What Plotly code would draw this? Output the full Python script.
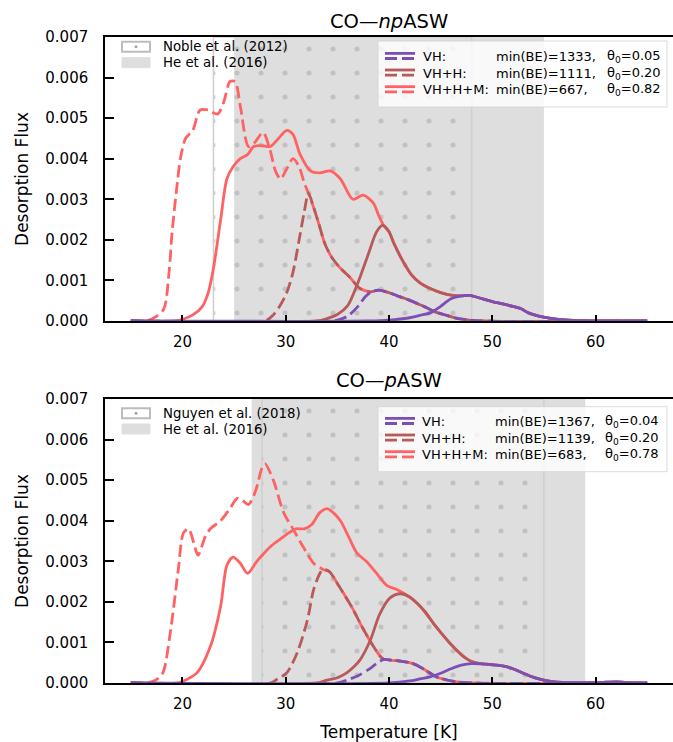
import plotly.graph_objects as go

# ---------------- data: CO - npASW (top panel) ----------------
np_vh_sol_T = [15, 38, 40, 42, 43, 44, 45, 46, 47, 47.8, 49, 50, 51, 52, 52.8, 53.5, 54.5, 55.5, 57, 59, 65]
np_vh_sol_F = [0, 0, 0.00002, 0.00008, 0.00014, 0.0002, 0.00036, 0.00055, 0.00062, 0.00063, 0.00055, 0.00048, 0.00042,
               0.00036, 0.0003, 0.0002, 0.00012, 0.00007, 0.00003, 0.00001, 0]

np_vh_dash_T = [15, 34.5, 35, 36, 37, 37.7, 38.3, 39, 40, 40.8, 41.5, 42.2, 43, 43.7, 44.5, 45.6, 46.5, 47.5, 49, 65]
np_vh_dash_F = [0, 0, 0.00002, 0.00012, 0.00036, 0.0006, 0.00072, 0.00076, 0.0007, 0.00062, 0.00056, 0.00049, 0.0004,
                0.00032, 0.00022, 0.00014, 0.00007, 0.00003, 0, 0]

np_vhh_sol_T = [15, 33, 34, 35, 36, 37, 38, 38.8, 39.4, 40, 40.5, 41.4, 42.2, 43, 44, 45, 46, 47, 47.8, 49, 50, 51, 52,
                52.8, 53.5, 54.5, 55.5, 57, 59, 65]
np_vhh_sol_F = [0, 0, 0.00006, 0.00016, 0.00038, 0.00095, 0.00165, 0.0022, 0.00236, 0.0022, 0.0019, 0.00145, 0.00113,
                0.00094, 0.0008, 0.0007, 0.00064, 0.00062, 0.00063, 0.00055, 0.00048, 0.00042, 0.00036, 0.0003, 0.0002,
                0.00012, 0.00007, 0.00003, 0.00001, 0]

np_vhh_dash_T = [15, 28, 28.8, 29.5, 30.1, 30.7, 31.3, 31.8, 32.2, 32.7, 33.2, 33.8, 34.5, 35.3, 36.2, 37.2, 38.2, 39,
                 40, 40.8, 41.5, 42.2, 43, 43.7, 44.5, 45.6, 46.5, 47.5, 49, 65]
np_vhh_dash_F = [0, 0, 0.00015, 0.0004, 0.0007, 0.0012, 0.002, 0.0027, 0.00315, 0.0028, 0.0024, 0.0019, 0.00155, 0.0013,
                 0.00108, 0.0008, 0.00072, 0.00076, 0.0007, 0.00062, 0.00056, 0.00049, 0.0004, 0.00032, 0.00022,
                 0.00014, 0.00007, 0.00003, 0, 0]

np_all_sol_T = [15, 19.3, 20.1, 21, 21.9, 22.5, 23, 23.7, 24.3, 24.9, 25.6, 26.3, 26.9, 27.7, 28.5, 29.3, 30.1, 30.7,
                31.4, 32.4, 33.3, 34.3, 35.3, 36.5, 37.5, 38.5, 39.0, 39.5, 40, 40.5, 41.4, 42.2, 43, 44, 45, 46, 47,
                47.8, 49, 50, 51, 52, 52.8, 53.5, 54.5, 55.5, 57, 59, 65]
np_all_sol_F = [0, 0, 0.00005, 0.00015, 0.00035, 0.0007, 0.0013, 0.0025, 0.0035, 0.0038, 0.004, 0.0041, 0.0043,
                0.00432, 0.0043, 0.0045, 0.0047, 0.0046, 0.0041, 0.0037, 0.00365, 0.0037, 0.0035, 0.003, 0.0031,
                0.0029, 0.0026, 0.00235, 0.0022, 0.0019, 0.00145, 0.00113, 0.00094, 0.0008, 0.0007, 0.00064, 0.00062,
                0.00063, 0.00055, 0.00048, 0.00042, 0.00036, 0.0003, 0.0002, 0.00012, 0.00007, 0.00003, 0.00001, 0]

np_all_dash_T = [15, 16.5, 17.4, 18.2, 18.7, 19.0, 19.5, 19.8, 20.3, 21.0, 21.7, 22.5, 23.4, 24.0, 24.6, 25.1, 25.6,
                 26.4, 27.0, 27.8, 28.5, 29.0, 29.5, 30.0, 30.7, 31.3, 31.8, 32.2, 32.7, 33.2, 33.8, 34.5, 35.3, 36.2,
                 37.2, 38.2, 39, 40, 40.8, 41.5, 42.2, 43, 43.7, 44.5, 45.6, 46.5, 47.5, 49, 65]
np_all_dash_F = [0, 0, 0.0001, 0.0003, 0.0012, 0.0022, 0.0034, 0.004, 0.0045, 0.0047, 0.0052, 0.0052, 0.0051, 0.0054,
                 0.0059, 0.0059, 0.0053, 0.0043, 0.0044, 0.00465, 0.0042, 0.0037, 0.0035, 0.0037, 0.004, 0.0038,
                 0.0034, 0.00315, 0.0028, 0.0024, 0.0019, 0.00155, 0.0013, 0.00108, 0.0008, 0.00072, 0.00076, 0.0007,
                 0.00062, 0.00056, 0.00049, 0.0004, 0.00032, 0.00022, 0.00014, 0.00007, 0.00003, 0, 0]

# ---------------- data: CO - pASW (bottom panel) ----------------
p_vh_sol_T = [15, 40, 42, 43, 44, 45, 46, 47, 48, 49, 50, 51, 52, 53, 54, 55, 56, 58, 60, 61, 62, 63, 65]
p_vh_sol_F = [0, 0, 0.00005, 0.0001, 0.00015, 0.00024, 0.00035, 0.00044, 0.00048, 0.00047, 0.00045, 0.00042, 0.00035,
              0.00024, 0.00014, 0.00007, 0.00003, 0.00001, 0.00001, 0.00002, 0.00003, 0.00001, 0]

p_vh_dash_T = [15, 35, 36, 37, 38, 38.8, 39.5, 40.3, 41.1, 42, 42.7, 43.3, 44, 44.6, 45.5, 46.5, 48, 65]
p_vh_dash_F = [0, 0, 0.00008, 0.00018, 0.00033, 0.00048, 0.00058, 0.00056, 0.00054, 0.0005, 0.00044, 0.00035, 0.00024,
               0.00015, 0.00008, 0.00003, 0, 0]

p_vhh_sol_T = [15, 33, 34, 35, 35.9, 36.6, 37.2, 38.2, 39.1, 40.1, 41.1, 42, 42.7, 43.5, 44.3, 45, 45.9, 47, 47.5, 48,
               49, 50, 51, 52, 53, 54, 55, 56, 58, 60, 61, 62, 63, 65]
p_vhh_sol_F = [0, 0, 0.00007, 0.00013, 0.00025, 0.0004, 0.00057, 0.00106, 0.0017, 0.0021, 0.0022, 0.00212, 0.00197,
               0.00175, 0.00147, 0.00125, 0.00098, 0.0007, 0.0006, 0.00053, 0.00047, 0.00045, 0.00042, 0.00035,
               0.00024, 0.00014, 0.00007, 0.00003, 0.00001, 0.00001, 0.00002, 0.00003, 0.00001, 0]

p_vhh_dash_T = [15, 28.5, 29.2, 30.1, 31.1, 32.1, 32.7, 33.3, 33.6, 34.2, 35.2, 36.4, 37.4, 38.4, 39.4, 40.3, 41.1, 42,
                42.7, 43.3, 44, 44.6, 45.5, 46.5, 48, 65]
p_vhh_dash_F = [0, 0, 0.0001, 0.00025, 0.00074, 0.00155, 0.0023, 0.0027, 0.0028, 0.00275, 0.00237, 0.00187, 0.00138,
                0.00094, 0.0006, 0.00056, 0.00054, 0.0005, 0.00044, 0.00035, 0.00024, 0.00015, 0.00008, 0.00003, 0, 0]

p_all_sol_T = [15, 19.5, 20.1, 21.4, 22.7, 23.7, 24.3, 24.9, 25.6, 26.3, 27.2, 27.9, 28.7, 29.5, 30.3, 31.0, 31.8,
               32.5, 33.3, 34.0, 34.6, 35.3, 36.1, 36.9, 37.8, 38.8, 39.8, 40.8, 42, 42.7, 43.5, 44.3, 45, 45.9, 47,
               47.5, 48, 49, 50, 51, 52, 53, 54, 55, 56, 58, 60, 61, 62, 63, 65]
p_all_sol_F = [0, 0, 0.00005, 0.00025, 0.0009, 0.0019, 0.0029, 0.0031, 0.00295, 0.0027, 0.003, 0.0032, 0.0034,
               0.00355, 0.0037, 0.0038, 0.0038, 0.0039, 0.0042, 0.0043, 0.0042, 0.004, 0.0036, 0.0032, 0.003, 0.0027,
               0.0024, 0.0023, 0.00212, 0.00197, 0.00175, 0.00147, 0.00125, 0.00098, 0.0007, 0.0006, 0.00053,
               0.00047, 0.00045, 0.00042, 0.00035, 0.00024, 0.00014, 0.00007, 0.00003, 0.00001, 0.00001, 0.00002,
               0.00003, 0.00001, 0]

p_all_dash_T = [15, 16.5, 17.4, 18.1, 18.8, 19.6, 20.1, 20.6, 21.1, 21.5, 22.2, 22.7, 23.7, 24.6, 25.3, 25.8, 26.4,
                27.1, 27.7, 28.0, 28.8, 29.8, 30.7, 31.7, 32.7, 33.3, 33.6, 34.2, 35.2, 36.4, 37.4, 38.4, 39.4, 40.3,
                41.1, 42, 42.7, 43.3, 44, 44.6, 45.5, 46.5, 48, 65]
p_all_dash_F = [0, 0, 0.00007, 0.00025, 0.0012, 0.0028, 0.0037, 0.0038, 0.00345, 0.00315, 0.0036, 0.0038, 0.004,
                0.0043, 0.00455, 0.0045, 0.0044, 0.00475, 0.0053, 0.0054, 0.005, 0.0042, 0.0038, 0.00335, 0.00295,
                0.00285, 0.0028, 0.00275, 0.00237, 0.00187, 0.00138, 0.00094, 0.0006, 0.00056, 0.00054, 0.0005,
                0.00044, 0.00035, 0.00024, 0.00015, 0.00008, 0.00003, 0, 0]

# experimental temperature ranges [K]
noble_range = [23.0, 48.0]
he_np_range = [25.0, 55.0]
nguyen_range = [27.7, 55.0]
he_p_range = [26.7, 59.0]

# legend texts
models = ["VH:", "VH+H:", "VH+H+M:"]
np_minbe = ["min(BE)=1333,", "min(BE)=1111,", "min(BE)=667,"]
np_theta = ["0.05", "0.20", "0.82"]
p_minbe = ["min(BE)=1367,", "min(BE)=1139,", "min(BE)=683,"]
p_theta = ["0.04", "0.20", "0.78"]
x_ticks = [20, 30, 40, 50, 60]
y_ticks = [0.000, 0.001, 0.002, 0.003, 0.004, 0.005, 0.006, 0.007]

# ---------------- styling ----------------
W, H = 673, 742
ML, MR, MT, MB = 105, 0, 37, 59
C_VH = "#7c4fb6"
C_VHH = "#b85a5a"
C_ALL = "#ff6262"
DASH = "12px,5px"
LW = 2.8
FONT = "DejaVu Sans"
YMAX = y_ticks[-1]


def px_x(px):
    return (px - ML) / (W - ML - MR)


def px_y(py):
    return (H - MB - py) / (H - MT - MB)


fig = go.Figure()


def add_region(xa, ya, rng, fill, dotted):
    kw = dict(x=[rng[0], rng[1], rng[1], rng[0], rng[0]], y=[0, 0, YMAX, YMAX, 0],
              xaxis=xa, yaxis=ya, mode="lines", fill="toself", hoverinfo="skip", showlegend=False)
    if dotted:
        fig.add_trace(go.Scatter(**kw, line=dict(color="#cfcfcf", width=1.5),
                                 fillcolor="rgba(0,0,0,0)",
                                 fillpattern=dict(shape=".", fgcolor="#a3a3a3", bgcolor="rgba(0,0,0,0)",
                                                  size=24, solidity=0.035, fillmode="overlay")))
    else:
        fig.add_trace(go.Scatter(**kw, line=dict(color=fill, width=0), fillcolor=fill))


add_region("x", "y", he_np_range, "#dedede", False)
add_region("x", "y", noble_range, None, True)
add_region("x2", "y2", he_p_range, "#dedede", False)
add_region("x2", "y2", nguyen_range, None, True)

panels = [
    ("x", "y", [(np_all_dash_T, np_all_dash_F, C_ALL, DASH), (np_all_sol_T, np_all_sol_F, C_ALL, "solid"),
                (np_vhh_dash_T, np_vhh_dash_F, C_VHH, DASH), (np_vhh_sol_T, np_vhh_sol_F, C_VHH, "solid"),
                (np_vh_dash_T, np_vh_dash_F, C_VH, DASH), (np_vh_sol_T, np_vh_sol_F, C_VH, "solid")]),
    ("x2", "y2", [(p_all_dash_T, p_all_dash_F, C_ALL, DASH), (p_all_sol_T, p_all_sol_F, C_ALL, "solid"),
                  (p_vhh_dash_T, p_vhh_dash_F, C_VHH, DASH), (p_vhh_sol_T, p_vhh_sol_F, C_VHH, "solid"),
                  (p_vh_dash_T, p_vh_dash_F, C_VH, DASH), (p_vh_sol_T, p_vh_sol_F, C_VH, "solid")]),
]
for xa, ya, series in panels:
    for T, F, col, dash in series:
        fig.add_trace(go.Scatter(x=T, y=F, xaxis=xa, yaxis=ya, mode="lines",
                                 line=dict(color=col, width=LW, dash=dash, shape="spline", smoothing=0.8),
                                 showlegend=False, hoverinfo="skip"))

axis_common = dict(showgrid=False, zeroline=False, showline=True, linecolor="black", linewidth=1.5,
                   mirror=True, ticks="inside", tickcolor="black", tickwidth=2, automargin=False,
                   tickfont=dict(family=FONT, size=15, color="black"))
top_dom = [px_y(321), 1.0]
bot_dom = [0.0, px_y(399)]
fig.update_layout(
    xaxis=dict(axis_common, domain=[0, 1], range=[12.5, 67.5], tickvals=x_ticks, ticklen=6, anchor="y",
               ticklabelstandoff=6),
    yaxis=dict(axis_common, domain=top_dom, range=[0, YMAX], tickvals=y_ticks, tickformat=".3f", ticklen=9,
               anchor="x", ticklabelstandoff=12,
               title=dict(text="Desorption Flux", font=dict(family=FONT, size=17), standoff=12)),
    xaxis2=dict(axis_common, domain=[0, 1], range=[12.5, 67.5], tickvals=x_ticks, ticklen=6, anchor="y2",
                ticklabelstandoff=6,
                title=dict(text="Temperature [K]", font=dict(family=FONT, size=17), standoff=15)),
    yaxis2=dict(axis_common, domain=bot_dom, range=[0, YMAX], tickvals=y_ticks, tickformat=".3f", ticklen=9,
                anchor="x2", ticklabelstandoff=12,
                title=dict(text="Desorption Flux", font=dict(family=FONT, size=17), standoff=12)),
    width=W, height=H, margin=dict(l=ML, r=MR, t=MT, b=MB, autoexpand=False),
    plot_bgcolor="white", paper_bgcolor="white", showlegend=False,
    font=dict(family=FONT, color="black"),
)

ann = []
shapes = []
# titles
ann.append(dict(text="CO—<i>np</i>ASW", x=px_x(389), y=px_y(22), xref="paper", yref="paper",
                showarrow=False, font=dict(family=FONT, size=19.5), xanchor="center", yanchor="middle"))
ann.append(dict(text="CO—<i>p</i>ASW", x=px_x(389), y=px_y(380), xref="paper", yref="paper",
                showarrow=False, font=dict(family=FONT, size=19.5), xanchor="center", yanchor="middle"))


def left_legend(rows, names):
    for i, (ry, name) in enumerate(zip(rows, names)):
        if i == 0:
            shapes.append(dict(type="rect", xref="paper", yref="paper", x0=px_x(122), x1=px_x(150),
                               y0=px_y(ry - 5), y1=px_y(ry + 5), fillcolor="white",
                               line=dict(color="#bdbdbd", width=2)))
            shapes.append(dict(type="circle", xref="paper", yref="paper", x0=px_x(134.5), x1=px_x(137.5),
                               y0=px_y(ry - 1.5), y1=px_y(ry + 1.5), fillcolor="#a3a3a3", line=dict(width=0)))
        else:
            shapes.append(dict(type="rect", xref="paper", yref="paper", x0=px_x(122), x1=px_x(150),
                               y0=px_y(ry - 5), y1=px_y(ry + 5), fillcolor="#dedede",
                               line=dict(color="#dedede", width=1)))
        ann.append(dict(text=name, x=px_x(161), y=px_y(ry), xref="paper", yref="paper", showarrow=False,
                        xanchor="left", yanchor="middle", font=dict(family=FONT, size=13.3)))


def right_legend(box, rows, minbe, theta, xcols):
    shapes.append(dict(type="rect", xref="paper", yref="paper", x0=px_x(box[0]), x1=px_x(box[1]),
                       y0=px_y(box[3]), y1=px_y(box[2]), fillcolor="rgba(255,255,255,0.8)",
                       line=dict(color="rgba(210,210,210,0.8)", width=1), layer="above"))
    for ry, m, b, th, col in zip(rows, models, minbe, theta, [C_VH, C_VHH, C_ALL]):
        shapes.append(dict(type="line", xref="paper", yref="paper", x0=px_x(385), x1=px_x(415),
                           y0=px_y(ry - 3.3), y1=px_y(ry - 3.3), line=dict(color=col, width=LW)))
        shapes.append(dict(type="line", xref="paper", yref="paper", x0=px_x(385), x1=px_x(415),
                           y0=px_y(ry + 1.8), y1=px_y(ry + 1.8), line=dict(color=col, width=LW, dash=DASH)))
        for txt, xc in zip([m, b, "θ<sub>0</sub>=" + th], xcols):
            ann.append(dict(text=txt, x=px_x(xc), y=px_y(ry), xref="paper", yref="paper", showarrow=False,
                            xanchor="left", yanchor="middle", font=dict(family=FONT, size=13)))


left_legend([46.7, 62.7], ["Noble et al. (2012)", "He et al. (2016)"])
left_legend([413.3, 429.0], ["Nguyen et al. (2018)", "He et al. (2016)"])
right_legend([378, 667, 41, 107], [56.7, 73.3, 90.0], np_minbe, np_theta, [420.7, 494, 605])
right_legend([378, 667, 406.7, 471.7], [421.7, 438.3, 455.0], p_minbe, p_theta, [420, 493, 603])

fig.update_layout(annotations=ann, shapes=shapes)
fig.write_html("out.html", config={"displayModeBar": False},
               post_script="document.body.style.margin='0px';")
